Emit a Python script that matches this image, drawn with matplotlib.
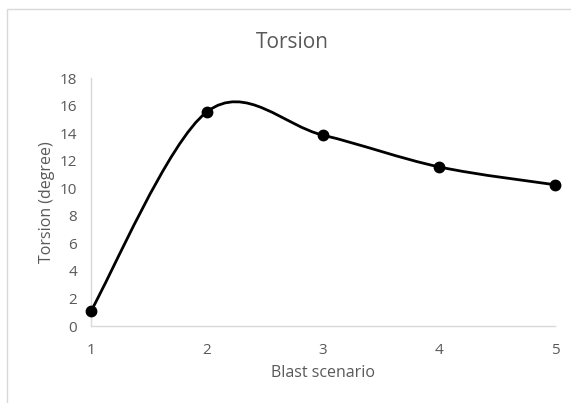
import matplotlib
matplotlib.use("Agg")
import matplotlib.pyplot as plt
from matplotlib.path import Path
from matplotlib.patches import PathPatch, Rectangle
import numpy as np

scenarios = [1, 2, 3, 4, 5]
torsion = [1.1, 15.55, 13.85, 11.55, 10.25]
yticks = [0, 2, 4, 6, 8, 10, 12, 14, 16, 18]

plt.rcParams['font.family'] = ['Open Sans', 'DejaVu Sans']
gray = '#595959'

fig = plt.figure(figsize=(5.71, 4.03), dpi=100)
fig.patches.append(Rectangle((7/571, -0.1), 1.1, (403-9)/403 + 0.1, transform=fig.transFigure,
                             fill=False, edgecolor='#d9d9d9', linewidth=1.0))
ax = fig.add_axes([91/571, 77/403, (555-91)/571, (326-78)/403])

# Excel-like smoothed line (Catmull-Rom as cubic Bezier)
x = np.array(scenarios, dtype=float)
y = np.array(torsion, dtype=float)
n = len(x)
verts = [(x[0], y[0])]
codes = [Path.MOVETO]
for i in range(n - 1):
    p0 = np.array([x[max(i-1, 0)], y[max(i-1, 0)]])
    p1 = np.array([x[i], y[i]])
    p2 = np.array([x[i+1], y[i+1]])
    p3 = np.array([x[min(i+2, n-1)], y[min(i+2, n-1)]])
    c1 = p1 + (p2 - p0) / 6.0
    c2 = p2 - (p3 - p1) / 6.0
    verts += [tuple(c1), tuple(c2), tuple(p2)]
    codes += [Path.CURVE4] * 3
ax.add_patch(PathPatch(Path(verts, codes), fill=False, edgecolor='black', linewidth=2.0,
                       capstyle='round', joinstyle='round', zorder=2))
ax.plot(scenarios, torsion, linestyle='none', marker='o', markersize=7.5, color='black', zorder=3,
        clip_on=False)

ax.set_xlim(1, 5)
ax.set_ylim(0, 18)
ax.set_xticks(scenarios)
ax.set_yticks(yticks)
ax.tick_params(axis='both', length=0, colors=gray, labelsize=11)
ax.tick_params(axis='x', pad=12)
ax.tick_params(axis='y', pad=10)
for s in ['top', 'right']:
    ax.spines[s].set_visible(False)
for s in ['left', 'bottom']:
    ax.spines[s].set_color('#d9d9d9')
    ax.spines[s].set_linewidth(1.0)

ax.set_xlabel('Blast scenario', color=gray, fontsize=11.5, labelpad=5)
ax.set_ylabel('Torsion (degree)', color=gray, fontsize=11.5, labelpad=3)
fig.text(292/571, 1 - 43/403, 'Torsion', ha='center', va='center', color=gray, fontsize=15)

fig.savefig('out.png', dpi=100)
